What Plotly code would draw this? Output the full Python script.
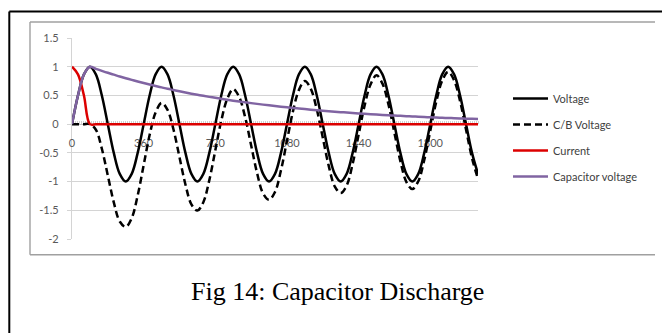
import plotly.graph_objects as go

# ---- data ----
angle = [0, 30, 60, 90, 120, 150, 180, 210, 240, 270, 300, 330,
         360, 390, 420, 450, 480, 510, 540, 570, 600, 630, 660, 690,
         720, 750, 780, 810, 840, 870, 900, 930, 960, 990, 1020, 1050,
         1080, 1110, 1140, 1170, 1200, 1230, 1260, 1290, 1320, 1350, 1380, 1410,
         1440, 1470, 1500, 1530, 1560, 1590, 1620, 1650, 1680, 1710, 1740, 1770,
         1800, 1830, 1860, 1890, 1920, 1950, 1980, 2010, 2040]

voltage = [0, 0.5, 0.866, 1, 0.866, 0.5, 0, -0.5, -0.866, -1, -0.866, -0.5,
           0, 0.5, 0.866, 1, 0.866, 0.5, 0, -0.5, -0.866, -1, -0.866, -0.5,
           0, 0.5, 0.866, 1, 0.866, 0.5, 0, -0.5, -0.866, -1, -0.866, -0.5,
           0, 0.5, 0.866, 1, 0.866, 0.5, 0, -0.5, -0.866, -1, -0.866, -0.5,
           0, 0.5, 0.866, 1, 0.866, 0.5, 0, -0.5, -0.866, -1, -0.866, -0.5,
           0, 0.5, 0.866, 1, 0.866, 0.5, 0, -0.5, -0.866]

cb_voltage = [0, 0, 0, 0, -0.097, -0.428, -0.894, -1.362, -1.696, -1.79, -1.637, -1.242,
              -0.715, -0.189, 0.202, 0.37, 0.25, -0.094, -0.572, -1.051, -1.397, -1.505, -1.359, -0.975,
              -0.458, 0.059, 0.441, 0.61, 0.472, 0.12, -0.366, -0.853, -1.206, -1.315, -1.181, -0.804,
              -0.293, 0.218, 0.594, 0.75, 0.614, 0.257, -0.234, -0.726, -1.083, -1.2, -1.068, -0.694,
              -0.187, 0.32, 0.692, 0.85, 0.705, 0.345, -0.15, -0.644, -1.005, -1.13, -0.995, -0.624,
              -0.12, 0.385, 0.755, 0.91, 0.763, 0.401, -0.096, -0.592, -0.955]

current = [1, 0.866, 0.5, 0, 0, 0, 0, 0, 0, 0, 0, 0,
           0, 0, 0, 0, 0, 0, 0, 0, 0, 0, 0, 0,
           0, 0, 0, 0, 0, 0, 0, 0, 0, 0, 0, 0,
           0, 0, 0, 0, 0, 0, 0, 0, 0, 0, 0, 0,
           0, 0, 0, 0, 0, 0, 0, 0, 0, 0, 0, 0,
           0, 0, 0, 0, 0, 0, 0, 0, 0]

capacitor_voltage = [0, 0.5, 0.866, 1, 0.963, 0.928, 0.894, 0.862, 0.83, 0.8, 0.771, 0.742,
                     0.715, 0.689, 0.664, 0.64, 0.616, 0.594, 0.572, 0.551, 0.531, 0.512, 0.493, 0.475,
                     0.458, 0.441, 0.425, 0.409, 0.394, 0.38, 0.366, 0.353, 0.34, 0.327, 0.315, 0.304,
                     0.293, 0.282, 0.272, 0.262, 0.252, 0.243, 0.234, 0.226, 0.217, 0.209, 0.202, 0.194,
                     0.187, 0.18, 0.174, 0.168, 0.161, 0.155, 0.15, 0.144, 0.139, 0.134, 0.129, 0.124,
                     0.12, 0.115, 0.111, 0.107, 0.103, 0.099, 0.096, 0.092, 0.089]

x_tick_vals = [0, 360, 720, 1080, 1440, 1800]
x_tick_text = ["0", "360", "720", "1080", "1440", "1800"]
y_tick_vals = [1.5, 1, 0.5, 0, -0.5, -1, -1.5, -2]
y_tick_text = ["1.5", "1", "0.5", "0", "-0.5", "-1", "-1.5", "-2"]

caption = "Fig 14: Capacitor Discharge"

# ---- layout geometry ----
# page coordinates of the reference; the page body adds an 8px offset
OFF = 8
W, H = 670 - OFF, 333 - OFF
L, R, T, B = 72 - OFF, 478 - OFF, 38 - OFF, 239 - OFF   # plot area edges (figure px)


def px_x(px):
    return (px - OFF - L) / (R - L)


def px_y(py):
    return (B - (py - OFF)) / (B - T)


fig = go.Figure()

series = [
    ("Voltage", voltage, dict(color="#000000", width=2.5)),
    ("C/B Voltage", cb_voltage, dict(color="#000000", width=2.5, dash="7px,4px")),
    ("Current", current, dict(color="#dc0000", width=2.5)),
    ("Capacitor voltage", capacitor_voltage, dict(color="#8064a2", width=2.5)),
]
for name, vals, line in series:
    fig.add_trace(go.Scatter(
        x=angle, y=vals, name=name, mode="lines",
        line=dict(shape="spline", smoothing=1.0, **line),
        legendgroup=name,
    ))

tick_font = dict(family="Lato", size=11, color="#595959")

fig.update_layout(
    width=W, height=H,
    margin=dict(l=L, r=W - R, t=T, b=H - B, pad=0),
    paper_bgcolor="white", plot_bgcolor="white",
    showlegend=True,
    legend=dict(
        x=px_x(508), y=px_y(84), xanchor="left", yanchor="top",
        font=dict(family="Lato", size=11, color="#404040"),
        tracegroupgap=7, itemwidth=35, bgcolor="rgba(0,0,0,0)",
    ),
    xaxis=dict(
        range=[0, 2040], anchor="free", position=px_y(123.7),
        tickvals=x_tick_vals, ticktext=x_tick_text, tickfont=tick_font,
        showgrid=False, zeroline=False,
        showline=True, linecolor="#bfbfbf", linewidth=1,
        ticks="", ticklabelstandoff=9, layer="below traces",
        minor=dict(ticks="inside", ticklen=3, dtick=10, tick0=0,
                   tickcolor="#d0d0d0", showgrid=False),
    ),
    yaxis=dict(
        range=[-2, 1.5], tickvals=y_tick_vals, ticktext=y_tick_text,
        tickfont=tick_font, showgrid=True, gridcolor="#d4d4d4", gridwidth=1.2,
        zeroline=False, showline=True, linecolor="#d4d4d4", linewidth=1.2,
        ticks="outside", ticklen=4, tickcolor="#d4d4d4",
        ticklabelstandoff=6, layer="below traces",
    ),
)

# outer document frame (black) and inner chart frame (grey), page coordinates
frame = [
    (9.3, 11.5, 9.3, 345, "#000000", 2),
    (9.3, 11.5, 690, 11.5, "#000000", 2),
    (30, 22, 30, 254.8, "#a0a0a0", 1.4),
    (30, 22, 655, 22, "#a0a0a0", 1.4),
    (30, 254.8, 655, 254.8, "#a0a0a0", 1.4),
]
for x0, y0, x1, y1, c, w in frame:
    fig.add_shape(type="line", xref="paper", yref="paper",
                  x0=px_x(x0), y0=px_y(y0), x1=px_x(x1), y1=px_y(y1),
                  line=dict(color=c, width=w))

fig.add_annotation(
    text=caption, xref="paper", yref="paper",
    x=px_x(337), y=px_y(291), xanchor="center", yanchor="middle",
    showarrow=False, font=dict(family="Liberation Serif", size=26, color="#000000"),
)

fig.write_html("out.html")
